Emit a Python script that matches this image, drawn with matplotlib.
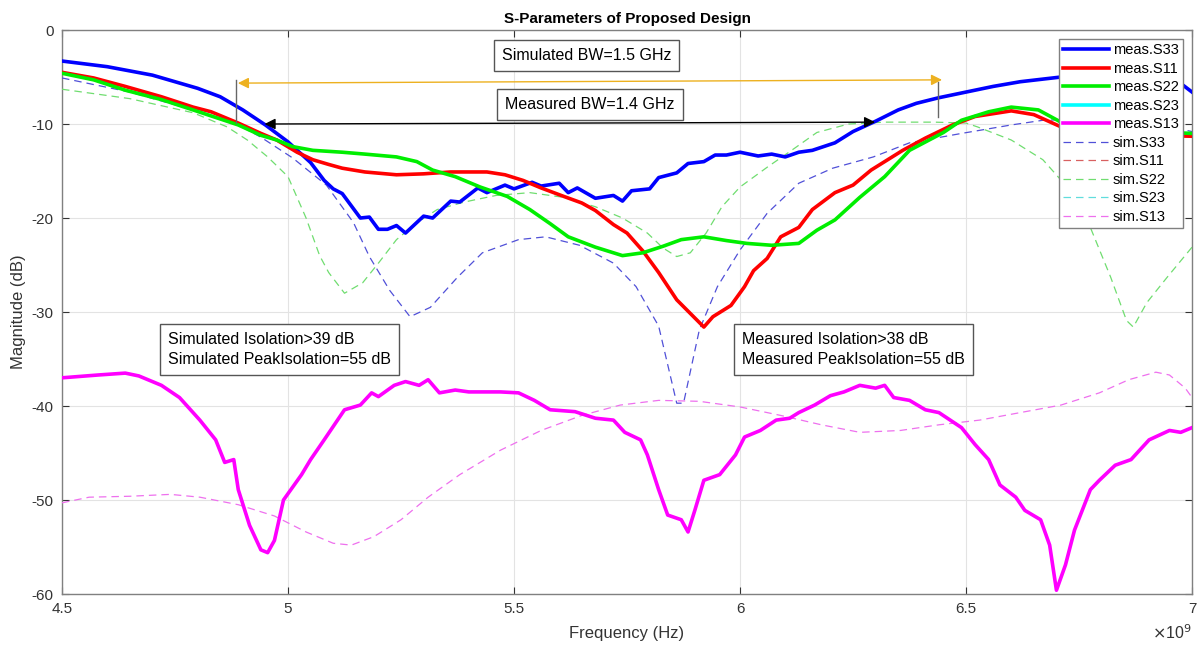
import numpy as np
import matplotlib
matplotlib.use("Agg")
import matplotlib.pyplot as plt
from matplotlib.ticker import FuncFormatter

plt.rcParams['font.family'] = ['Liberation Sans', 'DejaVu Sans']
plt.rcParams['axes.unicode_minus'] = False

# measured S-parameters (frequency in GHz, magnitude in dB)
f_meas_s33 = [4.50, 4.60, 4.70, 4.80, 4.85, 4.90, 4.95, 5.00, 5.05, 5.08, 5.10, 5.12, 5.16, 5.18,
              5.20, 5.22, 5.24, 5.26, 5.30, 5.32, 5.36, 5.38, 5.42, 5.44, 5.48, 5.50, 5.54, 5.56,
              5.60, 5.62, 5.64, 5.68, 5.72, 5.74, 5.76, 5.80, 5.82, 5.86, 5.885, 5.92, 5.945, 5.97,
              6.00, 6.04, 6.07, 6.10, 6.13, 6.16, 6.21, 6.25, 6.30, 6.35, 6.39, 6.44, 6.49, 6.56,
              6.62, 6.71, 6.80, 6.88, 6.97, 7.00]
meas_s33 = [-3.3, -3.9, -4.8, -6.2, -7.1, -8.5, -10.1, -11.9, -14.1, -16.0, -16.9, -17.4, -20.0, -19.9,
            -21.2, -21.2, -20.8, -21.6, -19.8, -20.0, -18.2, -18.3, -16.8, -17.3, -16.5, -16.9, -16.2, -16.6,
            -16.3, -17.3, -16.8, -17.9, -17.6, -18.2, -17.1, -16.9, -15.7, -15.2, -14.2, -14.0, -13.3, -13.3,
            -13.0, -13.4, -13.2, -13.5, -13.0, -12.8, -12.0, -10.8, -9.7, -8.5, -7.8, -7.2, -6.7, -6.0,
            -5.5, -5.0, -4.8, -4.9, -5.5, -6.6]

f_meas_s11 = [4.50, 4.57, 4.64, 4.72, 4.79, 4.83, 4.89, 4.94, 4.975, 5.02, 5.055, 5.09, 5.12, 5.17,
              5.24, 5.30, 5.36, 5.44, 5.48, 5.52, 5.56, 5.61, 5.65, 5.68, 5.72, 5.75, 5.785, 5.82,
              5.86, 5.92, 5.94, 5.98, 6.01, 6.03, 6.06, 6.09, 6.13, 6.16, 6.21, 6.25, 6.29, 6.36,
              6.41, 6.47, 6.52, 6.60, 6.65, 6.71, 6.80, 6.90, 7.00]
meas_s11 = [-4.5, -5.1, -6.0, -7.1, -8.2, -8.7, -9.9, -11.0, -11.7, -13.0, -13.8, -14.3, -14.7, -15.1,
            -15.4, -15.3, -15.1, -15.1, -15.4, -16.0, -16.8, -17.7, -18.4, -19.2, -20.7, -21.6, -23.5, -25.8,
            -28.7, -31.6, -30.5, -29.3, -27.3, -25.6, -24.3, -22.0, -21.0, -19.1, -17.3, -16.5, -14.9, -12.8,
            -11.5, -10.1, -9.2, -8.6, -9.0, -10.3, -10.9, -11.2, -11.3]

f_meas_s22 = [4.50, 4.57, 4.64, 4.72, 4.79, 4.89, 4.94, 4.975, 5.01, 5.055, 5.12, 5.17, 5.24, 5.285,
              5.32, 5.37, 5.425, 5.485, 5.535, 5.58, 5.62, 5.68, 5.74, 5.785, 5.83, 5.87, 5.92, 5.97,
              6.015, 6.07, 6.13, 6.17, 6.21, 6.265, 6.32, 6.375, 6.45, 6.49, 6.55, 6.60, 6.66, 6.71,
              6.80, 6.90, 7.00]
meas_s22 = [-4.6, -5.3, -6.4, -7.4, -8.5, -10.1, -11.2, -11.7, -12.4, -12.8, -13.0, -13.2, -13.5, -14.0,
            -14.9, -15.6, -16.7, -17.7, -19.1, -20.6, -22.0, -23.1, -24.0, -23.7, -23.0, -22.3, -22.0, -22.4,
            -22.7, -22.9, -22.7, -21.3, -20.2, -17.8, -15.6, -12.8, -10.9, -9.6, -8.7, -8.2, -8.5, -9.8,
            -10.5, -10.8, -11.0]

f_meas_s23 = []
meas_s23 = []

f_meas_s13 = [4.50, 4.58, 4.64, 4.67, 4.72, 4.76, 4.805, 4.84, 4.86, 4.88, 4.89, 4.915, 4.94, 4.955,
              4.97, 4.99, 5.03, 5.05, 5.08, 5.125, 5.16, 5.185, 5.20, 5.235, 5.26, 5.29, 5.31, 5.335,
              5.37, 5.40, 5.47, 5.51, 5.545, 5.58, 5.635, 5.68, 5.72, 5.745, 5.78, 5.795, 5.82, 5.84,
              5.87, 5.885, 5.90, 5.92, 5.955, 5.99, 6.01, 6.045, 6.08, 6.11, 6.13, 6.165, 6.20, 6.23,
              6.265, 6.30, 6.32, 6.34, 6.375, 6.41, 6.44, 6.465, 6.49, 6.52, 6.55, 6.575, 6.61, 6.63,
              6.665, 6.685, 6.70, 6.72, 6.74, 6.775, 6.795, 6.83, 6.865, 6.905, 6.95, 6.975, 7.00]
meas_s13 = [-37.0, -36.7, -36.5, -36.8, -37.8, -39.1, -41.5, -43.6, -46.0, -45.7, -48.9, -52.7, -55.3, -55.6,
            -54.3, -50.0, -47.3, -45.7, -43.6, -40.4, -39.9, -38.6, -39.0, -37.8, -37.4, -37.8, -37.2, -38.6,
            -38.3, -38.5, -38.5, -38.6, -39.4, -40.4, -40.6, -41.3, -41.5, -42.8, -43.6, -45.2, -48.9, -51.6,
            -52.1, -53.4, -51.1, -47.9, -47.3, -45.2, -43.3, -42.6, -41.5, -41.3, -40.7, -39.9, -38.9, -38.5,
            -37.8, -38.1, -37.8, -39.1, -39.4, -40.4, -40.7, -41.5, -42.3, -44.1, -45.7, -48.4, -49.7, -51.1,
            -52.1, -54.8, -59.6, -56.9, -53.2, -48.9, -47.9, -46.3, -45.7, -43.6, -42.6, -42.8, -42.3]

# simulated S-parameters
f_sim_s33 = [4.50, 4.65, 4.79, 4.89, 4.94, 5.01, 5.085, 5.145, 5.18, 5.225, 5.27, 5.315, 5.375, 5.43,
             5.51, 5.57, 5.645, 5.72, 5.77, 5.82, 5.86, 5.875, 5.91, 5.95, 6.00, 6.06, 6.13, 6.205,
             6.295, 6.375, 6.49, 6.60, 6.67, 6.75, 6.85, 6.93, 7.00]
sim_s33 = [-5.1, -6.6, -8.5, -10.1, -11.4, -13.6, -16.5, -20.5, -24.1, -27.7, -30.5, -29.5, -26.3, -23.7,
           -22.3, -22.0, -22.9, -24.8, -27.3, -31.5, -39.7, -39.7, -31.9, -27.3, -23.4, -19.5, -16.3, -14.7,
           -13.5, -12.0, -11.0, -10.1, -9.6, -9.5, -9.7, -10.1, -10.8]

f_sim_s11 = []
sim_s11 = []

f_sim_s22 = [4.50, 4.65, 4.79, 4.865, 4.91, 4.955, 5.00, 5.04, 5.07, 5.09, 5.125, 5.165, 5.20, 5.24,
             5.285, 5.33, 5.39, 5.46, 5.535, 5.61, 5.68, 5.74, 5.795, 5.83, 5.86, 5.89, 5.925, 5.96,
             6.00, 6.06, 6.12, 6.17, 6.24, 6.32, 6.43, 6.50, 6.525, 6.60, 6.67, 6.72, 6.775, 6.82,
             6.855, 6.87, 6.90, 6.945, 7.00]
sim_s22 = [-6.3, -7.3, -8.8, -10.3, -11.7, -13.5, -15.6, -20.0, -24.0, -25.8, -28.0, -26.9, -24.8, -22.3,
           -20.5, -19.1, -18.3, -17.6, -17.3, -17.8, -18.8, -20.0, -21.6, -23.2, -24.1, -23.7, -21.6, -18.8,
           -16.7, -14.6, -12.6, -10.9, -10.0, -9.8, -9.8, -9.9, -10.3, -11.7, -13.8, -16.5, -21.0, -26.3,
           -30.9, -31.6, -29.0, -26.3, -23.1]

f_sim_s23 = []
sim_s23 = []

f_sim_s13 = [4.50, 4.56, 4.65, 4.74, 4.805, 4.89, 4.97, 5.04, 5.10, 5.14, 5.19, 5.25, 5.31, 5.38,
             5.47, 5.56, 5.65, 5.735, 5.82, 5.91, 6.00, 6.09, 6.18, 6.265, 6.355, 6.44, 6.53, 6.62,
             6.71, 6.795, 6.86, 6.92, 6.95, 6.985, 7.00]
sim_s13 = [-50.3, -49.7, -49.6, -49.4, -49.7, -50.5, -51.7, -53.4, -54.6, -54.8, -53.9, -52.1, -49.7, -47.3,
           -44.7, -42.6, -41.0, -39.9, -39.4, -39.5, -40.1, -41.0, -42.0, -42.8, -42.6, -42.0, -41.5, -40.7,
           -39.9, -38.6, -37.2, -36.4, -36.7, -38.1, -39.1]

# bandwidth markers: (start GHz, start dB, end GHz, end dB)
sim_bw = (4.883, -5.65, 6.453, -5.3)
meas_bw = (4.942, -10.0, 6.305, -9.8)
sim_bw_ticks = [(4.885, -5.3, -9.9), (6.438, -5.5, -9.3)]

GHZ = 1e9

fig = plt.figure(figsize=(11.99, 6.47), dpi=100)
ax = fig.add_axes([0.0517, 0.0819, 0.9425, 0.8717])

ax.plot(np.array(f_meas_s33) * GHZ, meas_s33, color='#0000ff', lw=2.6, label='meas.S33', zorder=4)
ax.plot(np.array(f_meas_s11) * GHZ, meas_s11, color='#ff0000', lw=2.6, label='meas.S11', zorder=4)
ax.plot(np.array(f_meas_s22) * GHZ, meas_s22, color='#00ee00', lw=2.6, label='meas.S22', zorder=4)
ax.plot(np.array(f_meas_s23) * GHZ, meas_s23, color='#00ffff', lw=2.6, label='meas.S23', zorder=4)
ax.plot(np.array(f_meas_s13) * GHZ, meas_s13, color='#ff00ff', lw=2.6, label='meas.S13', zorder=4)

ax.plot(np.array(f_sim_s33) * GHZ, sim_s33, color='#5050d8', lw=0.9, ls=(0, (6, 4)), label='sim.S33', zorder=3)
ax.plot(np.array(f_sim_s11) * GHZ, sim_s11, color='#d86060', lw=0.9, ls=(0, (6, 4)), label='sim.S11', zorder=3)
ax.plot(np.array(f_sim_s22) * GHZ, sim_s22, color='#70dd70', lw=0.9, ls=(0, (6, 4)), label='sim.S22', zorder=3)
ax.plot(np.array(f_sim_s23) * GHZ, sim_s23, color='#60dddd', lw=0.9, ls=(0, (6, 4)), label='sim.S23', zorder=3)
ax.plot(np.array(f_sim_s13) * GHZ, sim_s13, color='#ee70ee', lw=0.9, ls=(0, (6, 4)), label='sim.S13', zorder=3)

# bandwidth arrows
for fx, y0, y1 in sim_bw_ticks:
    ax.plot([fx * GHZ, fx * GHZ], [y0, y1], color='#666666', lw=1.0, zorder=5)
ax.annotate('', xy=(sim_bw[0] * GHZ, sim_bw[1]), xytext=(sim_bw[2] * GHZ, sim_bw[3]),
            arrowprops=dict(arrowstyle='<|-|>', color='#edb120', lw=1.0, mutation_scale=16), zorder=6)
ax.annotate('', xy=(meas_bw[0] * GHZ, meas_bw[1]), xytext=(meas_bw[2] * GHZ, meas_bw[3]),
            arrowprops=dict(arrowstyle='<|-|>', color='black', lw=1.0, mutation_scale=16), zorder=6)

box = dict(boxstyle='square,pad=0.5', fc='white', ec='#555555', lw=1.0)
ax.text(5.661 * GHZ, -2.66, 'Simulated BW=1.5 GHz', fontsize=11.5, ha='center', va='center', bbox=box, zorder=7)
ax.text(5.668 * GHZ, -7.9, 'Measured BW=1.4 GHz', fontsize=11.5, ha='center', va='center', bbox=box, zorder=7)
ax.text(4.735 * GHZ, -34.0, 'Simulated Isolation>39 dB\nSimulated PeakIsolation=55 dB', fontsize=11.5,
        ha='left', va='center', linespacing=1.45, bbox=dict(box, pad=0.45), zorder=7)
ax.text(6.004 * GHZ, -34.0, 'Measured Isolation>38 dB\nMeasured PeakIsolation=55 dB', fontsize=11.5,
        ha='left', va='center', linespacing=1.45, bbox=dict(box, pad=0.45), zorder=7)

ax.set_xlim(4.5 * GHZ, 7 * GHZ)
ax.set_ylim(-60, 0)
ax.set_xticks(np.arange(4.5, 7.01, 0.5) * GHZ)
ax.set_yticks(np.arange(-60, 1, 10))
ax.xaxis.set_major_formatter(FuncFormatter(lambda v, p: f'{v / GHZ:g}'))
ax.text(1.0, -0.08, r'$\times$10$^9$', transform=ax.transAxes, ha='right', va='baseline',
        fontsize=11.5, color='#333333')

ax.grid(True, color='#e3e3e3', lw=0.8)
ax.set_axisbelow(True)
ax.tick_params(direction='in', length=5, labelsize=11, colors='#333333', top=True, right=True,
               labeltop=False, labelright=False, pad=6)
for sp in ax.spines.values():
    sp.set_color('#808080')
    sp.set_linewidth(1.0)

ax.set_title('S-Parameters of Proposed Design', fontsize=11, fontweight='bold', pad=5)
ax.set_xlabel('Frequency (Hz)', fontsize=12, color='#333333', labelpad=7)
ax.set_ylabel('Magnitude (dB)', fontsize=12, color='#333333', labelpad=4)

leg = ax.legend(loc='upper right', fontsize=10.5, handlelength=3.1, handletextpad=0.3,
                labelspacing=0.31, borderpad=0.3, borderaxespad=0.6, fancybox=False,
                framealpha=1, edgecolor='#808080')
leg.get_frame().set_linewidth(1.0)
leg.set_zorder(10)

plt.savefig('out.png', dpi=100)
